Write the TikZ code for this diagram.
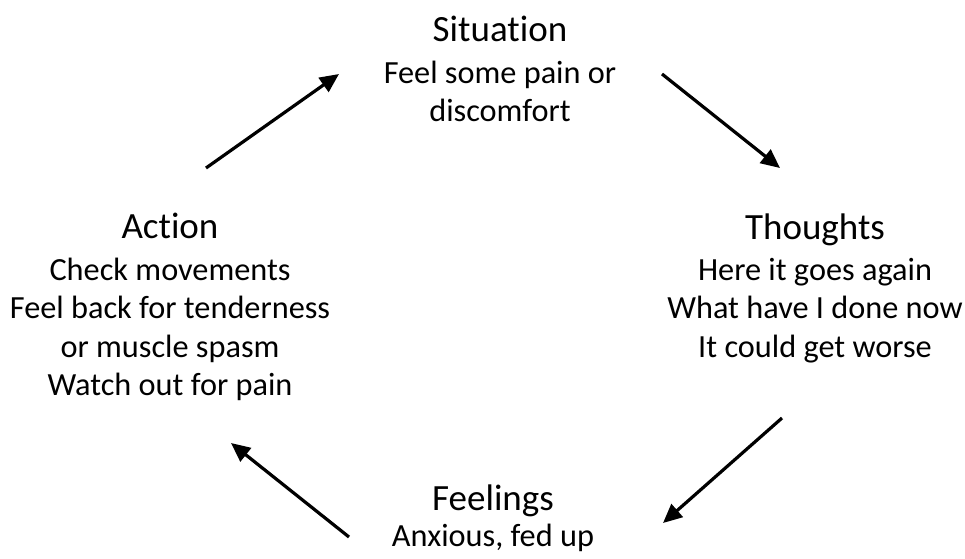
\documentclass[tikz,border=0pt]{standalone}
\usepackage{fontspec}
\setmainfont[Ligatures=NoCommon]{Carlito}
\usetikzlibrary{arrows.meta}
\begin{document}
\begin{tikzpicture}[x=1pt,y=-1pt,
  title/.style={anchor=base,inner sep=0pt,font=\fontsize{37}{44}\selectfont},
  body/.style={anchor=base,inner sep=0pt,font=\fontsize{32.3}{39}\selectfont},
  arr/.style={line width=3.2pt,-{Triangle[length=19pt,width=17pt]}}]
\useasboundingbox (0,0) rectangle (965,558);
% Situation
\node[title] (sit) at (500,41) {Situation};
\node[body] (sit1) at (500,83) {Feel some pain or};
\node[body] (sit2) at (500,121) {discomfort};
% Thoughts
\node[title] (tho) at (815,239) {Thoughts};
\node[body] (tho1) at (815,280) {Here it goes again};
\node[body] (tho2) at (815,318) {What have I done now};
\node[body] (tho3) at (815,357) {It could get worse};
% Feelings
\node[title] (fee) at (493,510) {Feelings};
\node[body] (fee1) at (493,546) {Anxious, fed up};
% Action
\node[title] (act) at (170,238) {Action};
\node[body] (act1) at (170,280) {Check movements};
\node[body] (act2) at (170,318) {Feel back for tenderness};
\node[body] (act3) at (170,357) {or muscle spasm};
\node[body] (act4) at (170,395) {Watch out for pain};
% arrow ends
\coordinate (a1s) at (206,168); \coordinate (a1e) at (339,74);
\coordinate (a2s) at (662,74);  \coordinate (a2e) at (780,168);
\coordinate (a3s) at (782,418); \coordinate (a3e) at (663,523);
\coordinate (a4s) at (349,537); \coordinate (a4e) at (231,443);
\draw[arr] (a1s) -- (a1e);
\draw[arr] (a2s) -- (a2e);
\draw[arr] (a3s) -- (a3e);
\draw[arr] (a4s) -- (a4e);
\end{tikzpicture}
\end{document}
